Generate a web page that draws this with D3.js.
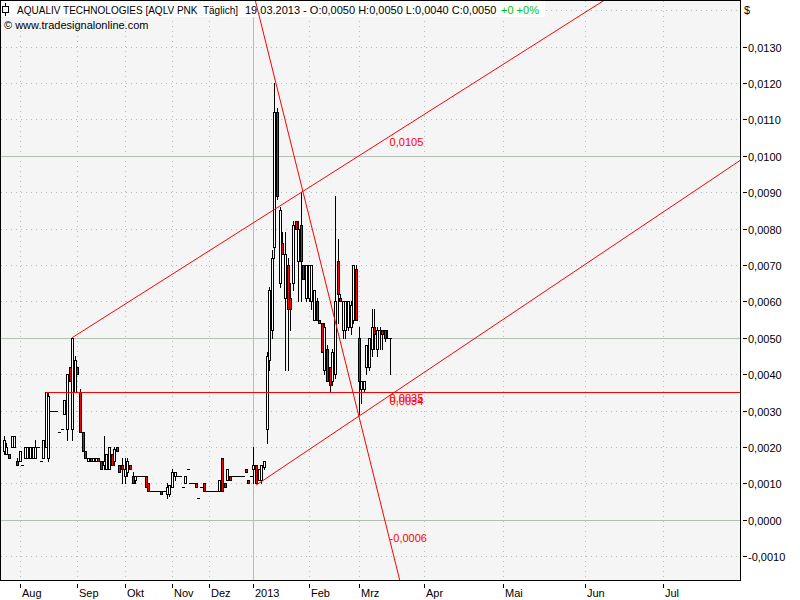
<!DOCTYPE html>
<html><head><meta charset="utf-8">
<script src="https://cdn.jsdelivr.net/npm/d3@7"></script>
<style>
body{margin:0;background:#fff}
svg{display:block}
text{font-family:"Liberation Sans",Arial,sans-serif;font-size:11px}
</style>
</head><body>
<svg id="chart" width="800" height="600"></svg>
<script>
// ---------- DATA ----------
// Daily bars [open, high, low, close] in units of 0.0001 $
const ohlc = [
[19,23,18,22],[18,21,18,20],[18,18,17,17],[20,23,20,23],[20,23,20,23],[16,17,15,15],[16,19,16,19],[15,15,15,15],
[17,20,17,20],[17,20,17,20],[17,20,17,20],[17,20,17,20],[17,22,17,20],[20,20,20,20],[16,16,16,16],[17,22,17,22],
[20,35,20,35],[17,35,16,34],[30,30,30,30],[30,30,30,30],[30,30,30,30],[24,24,24,24],[25,25,25,25],[29,33,29,33],
[25,40,22,40],[42,42,38,38],[25,50,22,50],[35,45,35,44],[42,42,40,40],[35,36,24,24],[24,24,19,19],[19,19,17,17],
[16,17,16,17],[17,17,16,16],[16,17,16,17],[16,17,16,17],[17,17,16,16],[16,16,14,14],[15,23,14,16],[14,18,14,18],
[14,20,14,20],[18,18,15,15],[16,20,15,19.5],[20,20,19,19],[15,15,13,13],[15,17,10,14],[12,17,10,14],[13,17,12,16],
[15,15,14,14],[12,13,10,10],[11,12,10,12],[12,12,12,12],[12,12,12,12],[12,12,12,12],[12,12,9,9],[10,10,8,8],
[8,8,8,8],[8,8,8,8],[8,8,8,8],[8,8,8,8],[8,8,7,7],[8,8,8,8],[7,10,6,9],[7,9.5,6.5,9.5],
[9,14,9,13],[12,13,11,13],[12,12,12,12],[12,12,12,12],[9,9,9,9],[10,12,10,12],[14,14,14,14],[10,10,10,10],
[10,10,10,10],[10,10,9,9],[6,6,6,6],[9,9,9,9],[10,10,8,8],[8,8,8,8],[8,8,8,8],[8,8,8,8],
[8,8,8,8],[8,8,8,8],[8,11,8,11],[17,17,8,8],[10,10,9,9],[11,14,11,14],[12,12,11,11],[12,12,12,12],
[12,12,12,12],[12,12,12,12],[12,12,12,12],[12,12,12,12],[14,14,13,13],[11,11,10,10],[12,12,12,12],[14,20,10,15],
[15,15,10,10],[11,14,11,14],[11,15,10,15],[14.5,16,14,16],[25,46,21,45],[44,64,41,63],[52,74,50,72],[75,120,72,112],
[112,113,88,89],[65,86,64,85],[76,79,73,73],[61,79,41,73],[70,72,41,58],[61,65,52,58],[65,82,63,81],[82,82,80,80],
[71,82,60,80],[81,90,60,71],[70,70,66,66],[61,70,60,70],[61,70,60,70],[60,70,58,70],[55,63,55,63],[60,61,55,55],
[55,55,54,54],[54,54,46,46],[41,54,40,53],[47,48,38,38],[42,42,35,37],[38,47,37,46],[40,89,39,60],[71,77,54,62],
[61,62,60,60],[52,60,50,60],[52,60,50,60],[53,60,52,60],[53,60,51,59],[55,70,54,70],[69,70,55,55],[50,53,29,38],
[36,38,32,38],[36,38,35,38],[42,48,40,48],[42,50,41,50],[47,58,45,53],[53,58,47,51],[47,53,45,52],[52,53,47,52],
[52,52,47,51],[52,52,49,50],[50,52,50,50],[50,50,40,50]
];
const priceUnit = 0.0001;

// x axis: month labels and the bar slot where each month starts
const monthLabels = ["Aug","Sep","Okt","Nov","Dez","2013","Feb","Mrz","Apr","Mai","Jun","Jul"];
const monthSlots  = [6, 28, 46, 64, 78, 95, 116, 135, 160, 190, 221, 251];
const solidMonth = "2013";

// y axis
const priceTicks = [-0.001,0,0.001,0.002,0.003,0.004,0.005,0.006,0.007,0.008,0.009,0.010,0.011,0.012,0.013];
const gridLevels = [-0.001,0,0.001,0.002,0.003,0.004,0.005,0.006,0.007,0.008,0.009,0.010,0.011,0.012,0.013,0.014];
const solidLevels = [0, 0.005, 0.010];

// drawn trend lines: two anchors each [slot, price]
const trendLines = [
  {a:[16, 0.0035],  b:[147, 0.0035],   back:false},
  {a:[26, 0.0050],  b:[147, 0.01054],  back:false},
  {a:[96, 0.00095], b:[147, 0.00342],  back:false},
  {a:[103,0.01215], b:[147, -0.0006],  back:true}
];

// header
const title = "AQUALIV TECHNOLOGIES [AQLV PNK  T\u00e4glich]";
const barDate = "19.03.2013";
const lastBar = {o:0.0050, h:0.0050, l:0.0040, c:0.0050};
const change = "+0 +0%";
const credit = "\u00a9 www.tradesignalonline.com";
const currency = "$";

// ---------- DRAW ----------
const svg = d3.select("#chart");
const L = 1, T = 1, R = 740, B = 580;
const x = d3.scaleLinear().domain([0, 280]).range([3.8, 3.8 + 280 * 2.628]);
const y = d3.scaleLinear().domain([0, 0.013]).range([519.7, 46.5]);
const loc = d3.formatLocale({decimal:",", thousands:".", grouping:[3], currency:["","$"], minus:"-"});
const f4 = loc.format(".4f");

svg.append("rect").attr("width",800).attr("height",600).attr("fill","#fff");
svg.append("rect").attr("x",L).attr("y",T).attr("width",R-L).attr("height",B-T).attr("fill","#f5f5f5");

const gridCol = "#b2bfb2";
const grid = svg.append("g");
gridLevels.forEach(v => {
  const yy = Math.round(y(v)) + 0.5;
  const solid = solidLevels.some(s => Math.abs(s - v) < 1e-9);
  grid.append("line").attr("x1",L).attr("x2",R).attr("y1",yy).attr("y2",yy)
    .attr("stroke", gridCol).attr("stroke-width",1)
    .attr("stroke-dasharray", solid ? null : "1,4");
});
monthSlots.forEach((s,i) => {
  const xx = Math.round(x(s)) + 0.5;
  const solid = monthLabels[i] === solidMonth;
  grid.append("line").attr("x1",xx).attr("x2",xx).attr("y1",T).attr("y2",B)
    .attr("stroke", gridCol).attr("stroke-width",1)
    .attr("stroke-dasharray", solid ? null : "1,4");
});

// header box and texts
svg.append("rect").attr("x",L).attr("y",T).attr("width",544).attr("height",16).attr("fill","#fff");
const icon = svg.append("g");
icon.append("line").attr("x1",5.5).attr("x2",5.5).attr("y1",3).attr("y2",16).attr("stroke","#000");
icon.append("rect").attr("x",2.5).attr("y",6.5).attr("width",6).attr("height",6).attr("fill","#fff").attr("stroke","#000");
svg.append("text").attr("x",17).attr("y",14).attr("fill","#000")
  .attr("xml:space","preserve").style("white-space","pre")
  .attr("textLength",221).attr("lengthAdjust","spacingAndGlyphs").text(title);
svg.append("text").attr("x",245).attr("y",14).attr("fill","#000")
  .text(`${barDate} - O:${f4(lastBar.o)} H:${f4(lastBar.h)} L:${f4(lastBar.l)} C:${f4(lastBar.c)}`);
svg.append("text").attr("x",501).attr("y",14).attr("fill","#00c000").text(change);
svg.append("text").attr("x",4).attr("y",29).attr("fill","#000").text(credit);

// candles
const cg = svg.append("g");
ohlc.forEach((d,i) => {
  const [o,h,l,c] = d.map(v => v * priceUnit);
  const px = Math.round(x(i));
  const hi = Math.round(y(h)), lo = Math.round(y(l));
  const top = Math.round(y(Math.max(o,c))), bot = Math.round(y(Math.min(o,c)));
  if (lo > hi) cg.append("line").attr("x1",px+0.5).attr("x2",px+0.5).attr("y1",hi).attr("y2",lo+1).attr("stroke","#000");
  if (bot - top < 1) {
    cg.append("line").attr("x1",px-1).attr("x2",px+2).attr("y1",top+0.5).attr("y2",top+0.5).attr("stroke","#000");
  } else {
    cg.append("rect").attr("x",px-0.5).attr("y",top+0.5).attr("width",2).attr("height",bot-top)
      .attr("fill", c >= o ? "#fff" : "#ff0000").attr("stroke","#000");
  }
});

// trend lines
svg.append("clipPath").attr("id","clip").append("rect").attr("x",L).attr("y",T).attr("width",R-L).attr("height",B-T);
const tg = svg.append("g").attr("clip-path","url(#clip)");
const lg = svg.append("g");
trendLines.forEach(t => {
  const x1 = x(t.a[0]), y1 = y(t.a[1]), x2 = x(t.b[0]), y2 = y(t.b[1]);
  const k = (y2 - y1) / (x2 - x1);
  const xs = t.back ? L - 50 : x1, xe = R + 50;
  tg.append("line").attr("x1",xs).attr("y1",y1 + k*(xs-x1)).attr("x2",xe).attr("y2",y1 + k*(xe-x1))
    .attr("stroke","#ff0000").attr("stroke-width",1)
    .attr("shape-rendering", k === 0 ? "crispEdges" : null);
  const falling = y2 > y1 + 0.5;
  lg.append("text").attr("x", x2 - 0.5).attr("y", falling ? y2 : y2 + 10)
    .attr("fill","#ff0000").text(f4(t.b[1]));
});

// frame
svg.append("rect").attr("x",L-0.5).attr("y",T-0.5).attr("width",R-L+1).attr("height",B-T+1)
  .attr("fill","none").attr("stroke","#000");

// y axis
const ya = svg.append("g");
priceTicks.forEach(v => {
  const yy = Math.round(y(v)) + 0.5;
  ya.append("line").attr("x1",743).attr("x2",747).attr("y1",yy).attr("y2",yy).attr("stroke","#000");
  ya.append("text").attr("x",748).attr("y",yy+4).attr("fill","#000").text(f4(v));
});
ya.append("text").attr("x",744).attr("y",14).attr("fill","#000").text(currency);

// x axis
const xa = svg.append("g");
monthSlots.forEach((s,i) => {
  const xx = Math.round(x(s)) + 0.5;
  xa.append("line").attr("x1",xx).attr("x2",xx).attr("y1",584).attr("y2",588).attr("stroke","#000");
  xa.append("text").attr("x",xx+1.5).attr("y",597).attr("fill","#000").text(monthLabels[i]);
});
</script>
</body></html>
